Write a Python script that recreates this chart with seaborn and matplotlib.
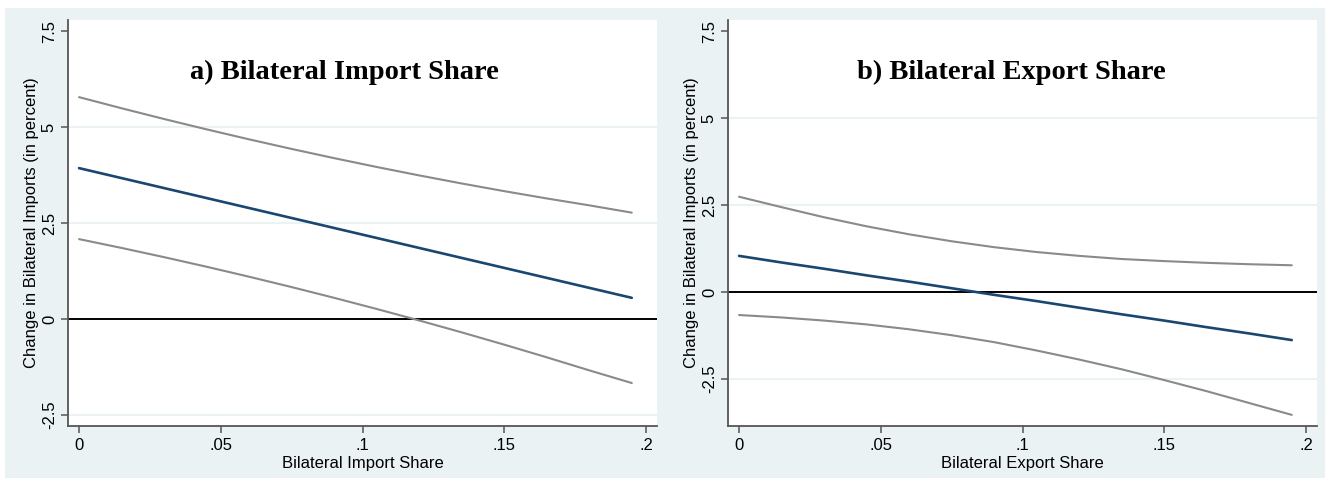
import matplotlib
matplotlib.use("Agg")
import matplotlib.pyplot as plt
from matplotlib.patches import Rectangle
import numpy as np
import pandas as pd
import seaborn as sns

# Evaluation points for the bilateral share
share = [0.0, 0.015, 0.03, 0.045, 0.06, 0.075, 0.09, 0.105, 0.12, 0.135, 0.15, 0.165, 0.18, 0.195]

# a) Bilateral import share: point estimate and 95% bounds
imp_est = [3.93, 3.67, 3.41, 3.15, 2.89, 2.63, 2.37, 2.11, 1.85, 1.59, 1.33, 1.07, 0.81, 0.55]
imp_hi = [5.78, 5.49, 5.21, 4.94, 4.68, 4.43, 4.19, 3.96, 3.74, 3.53, 3.33, 3.14, 2.96, 2.77]
imp_lo = [2.08, 1.85, 1.61, 1.36, 1.10, 0.83, 0.55, 0.26, -0.04, -0.35, -0.67, -1.00, -1.34, -1.67]

# b) Bilateral export share: point estimate and 95% bounds
exp_est = [1.04, 0.85, 0.67, 0.48, 0.30, 0.11, -0.08, -0.26, -0.45, -0.64, -0.82, -1.01, -1.19, -1.38]
exp_hi = [2.74, 2.44, 2.15, 1.89, 1.66, 1.46, 1.29, 1.15, 1.04, 0.95, 0.89, 0.84, 0.80, 0.77]
exp_lo = [-0.66, -0.73, -0.82, -0.93, -1.07, -1.24, -1.44, -1.68, -1.94, -2.22, -2.53, -2.85, -3.19, -3.53]

x_ticks = [0, 0.05, 0.1, 0.15, 0.2]
x_tick_labels = ["0", ".05", ".1", ".15", ".2"]
y_ticks = [-2.5, 0, 2.5, 5, 7.5]
y_tick_labels = ["-2.5", "0", "2.5", "5", "7.5"]
grid_vals = [-2.5, 2.5, 5]

titles = ["a) Bilateral Import Share", "b) Bilateral Export Share"]
x_labels = ["Bilateral Import Share", "Bilateral Export Share"]
y_label = "Change in Bilateral Imports (in percent)"

sns.set_theme(style="white")
plt.rcParams["font.family"] = ["Liberation Sans", "DejaVu Sans"]
plt.rcParams["text.color"] = "black"
plt.rcParams["axes.labelcolor"] = "black"

BG = "#EAF2F3"
NAVY = "#1A476F"
GREY = "#8A8A8A"
AXIS = "#555555"

fig = plt.figure(figsize=(13.28, 4.79), dpi=100)
fig.patch.set_facecolor("white")
fig.patches.append(Rectangle((5 / 1328, 1 - 478 / 479), 1320 / 1328, 470 / 479,
                             transform=fig.transFigure, facecolor=BG,
                             edgecolor="none", zorder=-10))

panels = [
    dict(est=imp_est, hi=imp_hi, lo=imp_lo, left=68, ylim=(-2.79, 7.79), tx=0.470),
    dict(est=exp_est, hi=exp_hi, lo=exp_lo, left=728, ylim=(-3.85, 7.82), tx=0.481),
]

for i, p in enumerate(panels):
    ax = fig.add_axes([p["left"] / 1328, 1 - 426 / 479, 589 / 1328, 406 / 479])
    ax.set_zorder(1)
    ax.set_facecolor("white")
    df = pd.DataFrame({
        "share": share * 3,
        "value": p["hi"] + p["est"] + p["lo"],
        "series": ["hi"] * len(share) + ["est"] * len(share) + ["lo"] * len(share),
    })
    for yv in grid_vals:
        ax.axhline(yv, color=BG, lw=1.5, zorder=1)
    ax.axhline(0, color="black", lw=1.4, zorder=2)
    sns.lineplot(data=df, x="share", y="value", hue="series",
                 palette={"hi": GREY, "est": NAVY, "lo": GREY},
                 hue_order=["hi", "est", "lo"], legend=False, ax=ax,
                 linewidth=1.5, zorder=3)
    ax.lines[-2].set_linewidth(1.9)
    ax.set_xlim(-0.0039, 0.2039)
    ax.set_ylim(*p["ylim"])
    ax.set_xticks(x_ticks)
    ax.set_xticklabels(x_tick_labels)
    ax.set_yticks(y_ticks)
    ax.set_yticklabels(y_tick_labels, rotation=90, va="center")
    ax.tick_params(axis="both", which="both", direction="out", length=5,
                   width=1.1, color=AXIS, labelsize=12, labelcolor="black",
                   bottom=True, left=True)
    ax.tick_params(axis="x", pad=4)
    ax.tick_params(axis="y", pad=3)
    for s in ["top", "right"]:
        ax.spines[s].set_visible(False)
    for s in ["left", "bottom"]:
        ax.spines[s].set_color(AXIS)
        ax.spines[s].set_linewidth(1.3)
    ax.set_xlabel(x_labels[i], fontsize=12, labelpad=2, color="black")
    ax.set_ylabel(y_label, fontsize=12, labelpad=2, color="black")
    ax.text(p["tx"], 0.872, titles[i], transform=ax.transAxes,
            ha="center", va="center", fontsize=20.5, fontweight="bold",
            color="black", family=["Liberation Serif", "DejaVu Serif"])

fig.savefig("out.png", dpi=100, facecolor=fig.get_facecolor())
